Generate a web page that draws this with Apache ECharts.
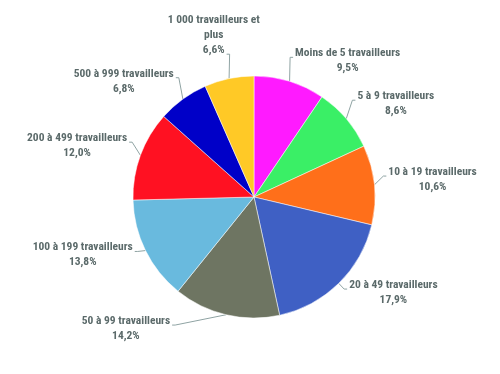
<!DOCTYPE html>
<html>
<head>
<meta charset="utf-8">
<script src="https://cdn.jsdelivr.net/npm/echarts@6/dist/echarts.min.js"></script>
<style>html,body{margin:0;padding:0;background:#fff}#c{width:500px;height:374px}</style>
</head>
<body>
<div id="c"></div>
<script>
const categories = ["Moins de 5 travailleurs","5 à 9 travailleurs","10 à 19 travailleurs","20 à 49 travailleurs","50 à 99 travailleurs","100 à 199 travailleurs","200 à 499 travailleurs","500 à 999 travailleurs","1 000 travailleurs et plus"];
const values = [9.5, 8.6, 10.6, 17.9, 14.2, 13.8, 12.0, 6.8, 6.6];
const colors = ["#ff1aff","#3aef66","#ff6f1a","#3f60c4","#6e7562","#69bade","#ff1122","#0000c8","#ffc926"];

const CX = 254, CY = 197, RADIUS = 121;
const FONT = '"Roboto Condensed",sans-serif';
const FS = 11.5, LH = 15;
const measure = document.createElement('canvas').getContext('2d');
measure.font = 'bold ' + FS + 'px "Roboto Condensed"';

function labelLines(i) {
  const name = categories[i].replace(' et plus', ' et\nplus');
  return (name + '\n' + values[i].toFixed(1).replace('.', ',') + '%').split('\n');
}

const chart = echarts.init(document.getElementById('c'));
chart.setOption({
  animation: false,
  series: [{
    type: 'pie',
    center: [CX, CY],
    radius: RADIUS,
    startAngle: 90,
    clockwise: true,
    avoidLabelOverlap: false,
    itemStyle: {borderColor: '#fff', borderWidth: 0.5},
    label: {
      show: true,
      position: 'outside',
      overflow: 'none',
      formatter: function (p) {
        return labelLines(p.dataIndex).map(l => '{c|' + l + '}').join('\n');
      },
      rich: {c: {align: 'center', fontFamily: FONT, fontWeight: 'bold', fontSize: FS, lineHeight: LH, color: '#5b6a6a'}}
    },
    labelLine: {show: true, length: 17, length2: 5, lineStyle: {color: '#8fa3a3', width: 1}},
    labelLayout: function (p) {
      const E = p.labelLinePoints[0];
      const th = Math.atan2(CY - E[1], E[0] - CX);
      const s = Math.sin(th), c = Math.cos(th);
      const side = c >= 0 ? 1 : -1;
      const dy = -138.8 * s - 7;
      let dx = 133 * c;
      if (s < -0.9) dx = side * Math.sqrt(Math.max(0, 152 * 152 - dy * dy));
      const lines = labelLines(p.dataIndex);
      const k = lines.length > 2 ? lines.length - 1 : 0;
      const X = CX + dx, Y = CY + dy;
      const w = measure.measureText(lines[k]).width;
      return {
        x: X + side * (2 + w / 2),
        y: Y - 11.5 - LH * k,
        align: 'center',
        verticalAlign: 'top',
        labelLinePoints: [E, [X - side * 3, Y], [X, Y]]
      };
    },
    data: categories.map((c, i) => ({name: c, value: values[i], itemStyle: {color: colors[i]}}))
  }]
});
</script>
</body>
</html>
